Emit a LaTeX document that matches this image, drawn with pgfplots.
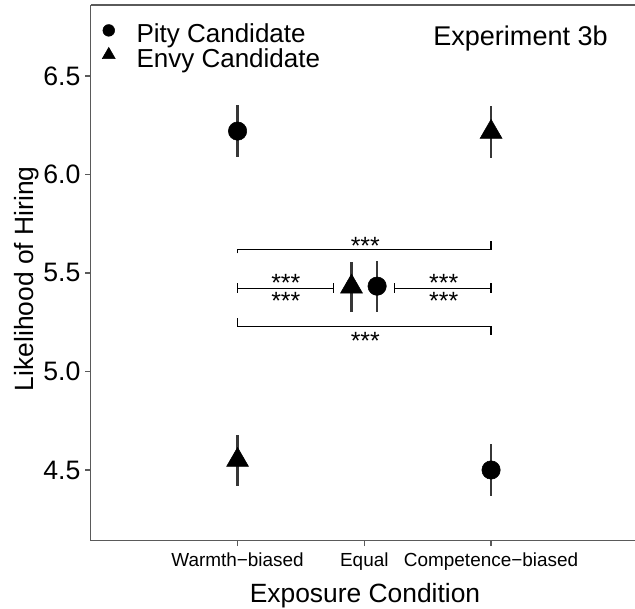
\documentclass[border=0pt]{standalone}
\usepackage{pgfplots}
\pgfplotsset{compat=1.18}
\usepackage{fontspec}
\setmainfont{Liberation Sans}
\definecolor{axgray}{RGB}{90,90,90}
\definecolor{errgray}{RGB}{55,55,55}
\begin{document}
\begin{tikzpicture}
\useasboundingbox (0pt,0pt) rectangle (476.25pt,456.75pt);
\begin{axis}[
  at={(67.9pt,51.2pt)}, anchor=south west,
  scale only axis, width=408.4pt, height=401.8pt,
  xmin=-0.1598, xmax=4.136, ymin=4.141, ymax=6.86,
  axis x line*=bottom, axis y line*=left,
  axis line style={axgray, line width=0.9pt},
  xtick={1,2,3}, xticklabels={Warmth−biased, Equal, Competence−biased},
  ytick={4.5,5,5.5,6,6.5},
  /pgf/number format/assume math mode=true,
  yticklabel style={/pgf/number format/fixed, /pgf/number format/fixed zerofill, /pgf/number format/precision=1, font=\fontsize{20}{24}\selectfont},
  xticklabel style={font=\fontsize{14.2}{17}\selectfont, yshift=-1.5pt},
  tick style={axgray, line width=0.9pt},
  tick align=outside, major tick length=4pt,
  xlabel={Exposure Condition}, ylabel={Likelihood of Hiring},
  label style={font=\fontsize{19.8}{24}\selectfont},
  xlabel style={at={(axis description cs:0.504,-0.1033)}, anchor=center},
  ylabel style={at={(axis description cs:-0.1166,0.489)}, anchor=center},
  legend style={at={(axis description cs:0.0211,0.9640)}, anchor=north west, draw=none, fill=none, inner sep=0pt, column sep=16pt, row sep=0pt,
    font=\fontsize{19.5}{19.5}\selectfont, nodes={inner sep=0pt, text height=12pt, text depth=3.5pt}},
  legend cell align=left,
  legend image code/.code={\draw[#1,mark repeat=2,mark phase=2] plot coordinates {(0pt,5pt) (9pt,5pt) (18pt,5pt)};},
]
\addlegendimage{only marks, mark=*, mark size=4.4pt, black}
\addlegendentry{Pity Candidate}
\addlegendimage{only marks, mark=triangle*, mark size=5.6pt, black}
\addlegendentry{Envy Candidate}

\draw[axgray, line width=0.9pt] (rel axis cs:0,1) -- (rel axis cs:1,1);

% significance brackets
\addplot[black, line width=0.9pt, forget plot] coordinates {(1,5.60) (1,5.62) (3,5.62) (3,5.66)};
\addplot[black, line width=0.9pt, forget plot] coordinates {(1,5.27) (1,5.227) (3,5.227) (3,5.185)};
\addplot[black, line width=0.9pt, forget plot] coordinates {(1,5.422) (1.76,5.422)};
\addplot[black, line width=0.9pt, forget plot] coordinates {(1,5.447) (1,5.400)};
\addplot[black, line width=0.9pt, forget plot] coordinates {(1.76,5.447) (1.76,5.400)};
\addplot[black, line width=0.9pt, forget plot] coordinates {(2.24,5.422) (3,5.422)};
\addplot[black, line width=0.9pt, forget plot] coordinates {(2.24,5.447) (2.24,5.400)};
\addplot[black, line width=0.9pt, forget plot] coordinates {(3,5.447) (3,5.400)};
\begin{scope}[every node/.style={font=\fontsize{18.7}{11.25}\selectfont, anchor=base, inner sep=0pt}]
\node at (axis cs:2.008,5.593) {***};
\node[align=center] at (axis cs:1.381,5.314) {***\\***};
\node[align=center] at (axis cs:2.626,5.314) {***\\***};
\node at (axis cs:2.008,5.111) {***};
\end{scope}

% data
\addplot[only marks, mark=*, mark size=6.9pt, black,
  error bars/.cd, y dir=both, y explicit, error mark=none,
  error bar style={errgray, line width=2pt}] coordinates {
  (1,6.22) +- (0,0.13)
  (2.101,5.433) +- (0,0.13)
  (3,4.50) +- (0,0.13)
};
\addplot[only marks, mark=triangle*, mark size=9.5pt, black,
  error bars/.cd, y dir=both, y explicit, error mark=none,
  error bar style={errgray, line width=2pt}] coordinates {
  (1,4.55) +- (0,0.13)
  (1.899,5.43) +- (0,0.127)
  (3,6.215) +- (0,0.13)
};

\node[anchor=east, font=\fontsize{20.3}{24}\selectfont, inner sep=0pt] at (axis description cs:0.9504,0.938) {Experiment 3b};
\end{axis}
\end{tikzpicture}
\end{document}
